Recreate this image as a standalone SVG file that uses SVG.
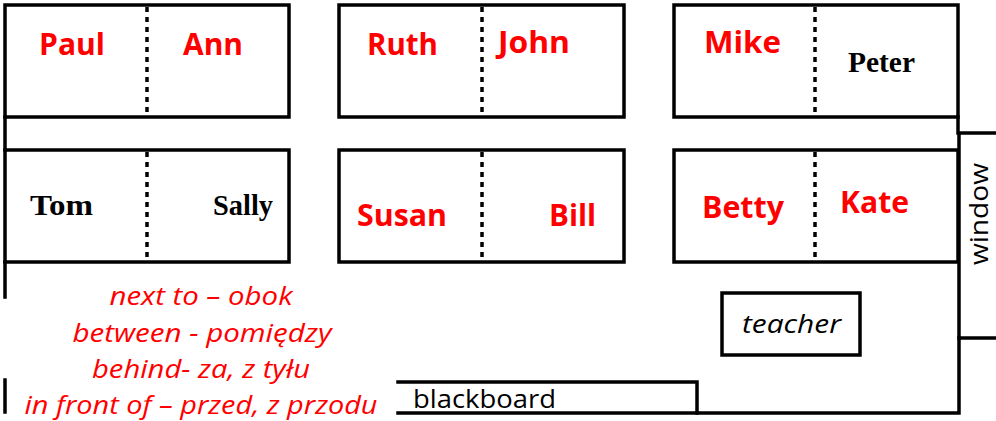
<svg xmlns="http://www.w3.org/2000/svg" width="996" height="421" viewBox="0 0 996 421">
<style>
.ln{fill:none;stroke:#000;stroke-width:3.5;stroke-linecap:square}
.dv{fill:none;stroke:#000;stroke-width:3.5;stroke-dasharray:5 5}
.nm{font-family:"Open Sans","Liberation Sans",sans-serif;font-weight:bold;font-size:30px;fill:#ff0000}
.sf{font-family:"Liberation Serif",serif;font-weight:bold;font-size:29px;fill:#000}
.lg{font-family:"Open Sans","Liberation Sans",sans-serif;font-style:italic;font-size:25px;fill:#ff0000;text-anchor:middle}
.bk{font-family:"Open Sans","Liberation Sans",sans-serif;font-size:25px;fill:#000}
</style>
<rect width="996" height="421" fill="#fff"/>
<g id="walls">
<path class="ln" d="M5,117 V150 M5,262 V297 M5,380 V412"/>
<path class="ln" d="M958,117 V133"/>
<path class="ln" d="M959,338 V413 H398"/>
</g>
<g id="desk-paul-ann">
<rect class="ln" x="5" y="5" width="284" height="112"/>
<line class="dv" x1="147" y1="7" x2="147" y2="117"/>
<text class="nm" x="39" y="55" textLength="66" lengthAdjust="spacingAndGlyphs">Paul</text>
<text class="nm" x="183" y="55" textLength="60" lengthAdjust="spacingAndGlyphs">Ann</text>
</g>
<g id="desk-ruth-john">
<rect class="ln" x="339" y="5" width="285" height="112"/>
<line class="dv" x1="482" y1="7" x2="482" y2="117"/>
<text class="nm" x="367" y="55" textLength="71" lengthAdjust="spacingAndGlyphs">Ruth</text>
<text class="nm" x="498" y="53" textLength="72" lengthAdjust="spacingAndGlyphs">John</text>
</g>
<g id="desk-mike-peter">
<rect class="ln" x="674" y="5" width="284" height="112"/>
<line class="dv" x1="815" y1="7" x2="815" y2="117"/>
<text class="nm" x="704" y="53" textLength="77" lengthAdjust="spacingAndGlyphs">Mike</text>
<text class="sf" x="848" y="72" textLength="67" lengthAdjust="spacingAndGlyphs">Peter</text>
</g>
<g id="desk-tom-sally">
<rect class="ln" x="5" y="150" width="284" height="112"/>
<line class="dv" x1="147" y1="152" x2="147" y2="262"/>
<text class="sf" x="30" y="215" textLength="63" lengthAdjust="spacingAndGlyphs">Tom</text>
<text class="sf" x="213" y="215" textLength="60" lengthAdjust="spacingAndGlyphs">Sally</text>
</g>
<g id="desk-susan-bill">
<rect class="ln" x="339" y="150" width="285" height="112"/>
<line class="dv" x1="482" y1="152" x2="482" y2="262"/>
<text class="nm" x="357" y="226" textLength="90" lengthAdjust="spacingAndGlyphs">Susan</text>
<text class="nm" x="549" y="226" textLength="47" lengthAdjust="spacingAndGlyphs">Bill</text>
</g>
<g id="desk-betty-kate">
<rect class="ln" x="674" y="150" width="284" height="112"/>
<line class="dv" x1="815" y1="152" x2="815" y2="262"/>
<text class="nm" x="702" y="218" textLength="82" lengthAdjust="spacingAndGlyphs">Betty</text>
<text class="nm" x="840" y="213" textLength="69" lengthAdjust="spacingAndGlyphs">Kate</text>
</g>
<g id="window">
<rect class="ln" x="959" y="133" width="45" height="205"/>
<text class="bk" transform="translate(988,214) rotate(-90)" text-anchor="middle" textLength="102" lengthAdjust="spacingAndGlyphs">window</text>
</g>
<g id="teacher">
<rect class="ln" x="722" y="293" width="138" height="62"/>
<text class="bk" x="742" y="333" font-style="italic" textLength="99" lengthAdjust="spacingAndGlyphs">teacher</text>
</g>
<g id="blackboard">
<path class="ln" d="M398,382 H697 V413"/>
<text class="bk" x="413" y="408" textLength="143" lengthAdjust="spacingAndGlyphs">blackboard</text>
</g>
<g id="legend">
<text class="lg" x="201" y="305" textLength="183" lengthAdjust="spacingAndGlyphs">next to – obok</text>
<text class="lg" x="202" y="342" textLength="259" lengthAdjust="spacingAndGlyphs">between - pomiędzy</text>
<text class="lg" x="201" y="378" textLength="218" lengthAdjust="spacingAndGlyphs">behind- za, z tyłu</text>
<text class="lg" x="201" y="414" textLength="353" lengthAdjust="spacingAndGlyphs">in front of – przed, z przodu</text>
</g>
</svg>
